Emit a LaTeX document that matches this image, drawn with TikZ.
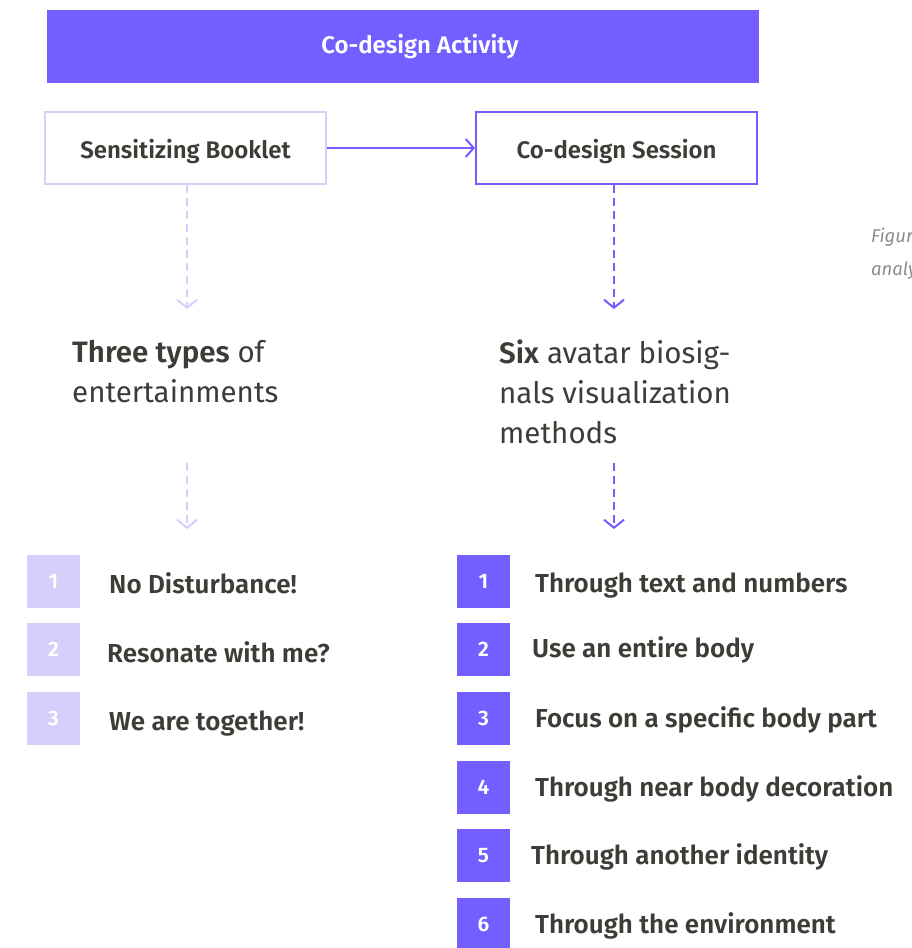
\documentclass[tikz,border=0pt]{standalone}
\usepackage{fontspec}
\setmainfont{Fira Sans}[BoldFont={Fira Sans SemiBold}]
\usetikzlibrary{arrows.meta}

\definecolor{accent}{RGB}{115,94,255}
\definecolor{accentlight}{RGB}{213,207,251}
\definecolor{ink}{RGB}{62,60,55}
\definecolor{captiongray}{RGB}{140,140,140}

\tikzset{
  stagebox/.style={draw, line width=2pt, minimum width=281pt, minimum height=72pt,
    inner sep=0pt, text height=20pt, text depth=0pt, text=ink,
    font=\fontsize{24}{28}\selectfont\bfseries},
  numbox/.style={minimum width=53pt, minimum height=53pt, inner sep=0pt,
    text=white, font=\fontsize{21}{24}\selectfont\bfseries},
  item/.style={anchor=base west, inner sep=0pt, text=ink,
    font=\fontsize{26}{30}\selectfont\bfseries},
  heading/.style={anchor=north west, align=left, inner sep=0pt, text=ink,
    font=\fontsize{29.5}{40}\selectfont},
  captiontext/.style={anchor=base west, inner sep=0pt, text=captiongray,
    font=\fontsize{18.5}{22}\selectfont\itshape},
  flow/.style={dash pattern=on 8pt off 5pt, line width=2pt,
    -{Straight Barb[length=8pt,width=20pt,line width=2pt]}},
}

\begin{document}
\begin{tikzpicture}[x=1pt,y=-1pt]
\useasboundingbox (0,0) rectangle (912,948);

% title bar
\node[fill=accent, minimum width=712pt, minimum height=73pt, inner sep=0pt,
      text height=13pt, text depth=0pt,
      text=white, font=\fontsize{24}{28}\selectfont\bfseries]
  (activity) at (403,46.5) {\hspace*{34pt}Co-design Activity};

% the two stages
\node[stagebox, draw=accentlight] (booklet) at (185.5,148) {Sensitizing Booklet};
\node[stagebox, draw=accent] (session) at (616.5,148) {Co-design Session};
\draw[accent, line width=2pt, -{Straight Barb[length=8pt,width=18pt,line width=2pt]}]
  (booklet.east) -- (session.west);

% outcomes
\node[heading] (types) at (72,340) {\textbf{Three types} of\\entertainments};
\node[heading] (methods) at (499,340) {\textbf{Six} avatar biosig-\\nals visualization\\methods};

\coordinate (bookletEnd) at (187,309);
\coordinate (sessionEnd) at (614,309);
\coordinate (typesTop) at (187,463);
\coordinate (typesEnd) at (187,529);
\coordinate (methodsTop) at (614,463);
\coordinate (methodsEnd) at (614,529);

\draw[flow, accentlight] (booklet.south -| bookletEnd) -- (bookletEnd);
\draw[flow, accent] (session.south -| sessionEnd) -- (sessionEnd);
\draw[flow, accentlight] (typesTop) -- (typesEnd);
\draw[flow, accent] (methodsTop) -- (methodsEnd);

% entertainment types
\node[numbox, fill=accentlight] (t1) at (53.5,581.5) {1};
\node[numbox, fill=accentlight] (t2) at (53.5,649.5) {2};
\node[numbox, fill=accentlight] (t3) at (53.5,718.5) {3};
\node[item] (t1label) at (109,593) {No Disturbance!};
\node[item] (t2label) at (107,662) {Resonate with me?};
\node[item] (t3label) at (109,730) {We are together!};

% visualization methods
\node[numbox, fill=accent] (m1) at (483.5,581.5) {1};
\node[numbox, fill=accent] (m2) at (483.5,649.5) {2};
\node[numbox, fill=accent] (m3) at (483.5,718) {3};
\node[numbox, fill=accent] (m4) at (483.5,787.5) {4};
\node[numbox, fill=accent] (m5) at (483.5,855.5) {5};
\node[numbox, fill=accent] (m6) at (483.5,924.5) {6};
\node[item] (m1label) at (535,592) {Through text and numbers};
\node[item] (m2label) at (532,657) {Use an entire body};
\node[item] (m3label) at (535,727) {Focus on a specific body part};
\node[item] (m4label) at (535,796) {Through near body decoration};
\node[item] (m5label) at (531,864) {Through another identity};
\node[item] (m6label) at (535,933) {Through the environment};

% caption running off the right edge
\begin{scope}
  \clip (0,0) rectangle (912,948);
  \node[captiontext] (cap1) at (871,242) {Figure};
  \node[captiontext] (cap2) at (871,275) {analysis};
\end{scope}
\end{tikzpicture}
\end{document}
